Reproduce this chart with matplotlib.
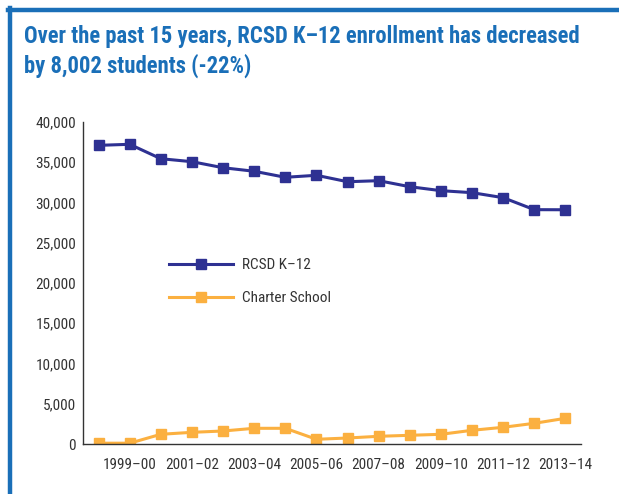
import matplotlib
matplotlib.use("Agg")
import matplotlib.pyplot as plt
from matplotlib.lines import Line2D

# data
seasons = ["1998–99", "1999–00", "2000–01", "2001–02", "2002–03", "2003–04",
           "2004–05", "2005–06", "2006–07", "2007–08", "2008–09", "2009–10",
           "2010–11", "2011–12", "2012–13", "2013–14"]
rcsd = [37100, 37230, 35440, 35070, 34320, 33880, 33130, 33380,
        32580, 32710, 31960, 31470, 31220, 30600, 29110, 29098]
charter = [100, 100, 1205, 1450, 1615, 1950, 1950, 584,
           745, 956, 1081, 1205, 1702, 2075, 2571, 3193]
series_names = ["RCSD K–12", "Charter School"]
y_ticks = [0, 5000, 10000, 15000, 20000, 25000, 30000, 35000, 40000]

NAVY = "#2e3192"
ORANGE = "#fbb040"
BLUE = "#1a6fb8"
GREY = "#333333"

plt.rcParams["font.family"] = ["Roboto Condensed", "DejaVu Sans"]

fig = plt.figure(figsize=(6.19, 4.94), dpi=100)
ax = fig.add_axes([83 / 619, 1 - 444 / 494, 498 / 619, 322 / 494])

x = list(range(len(seasons)))
ax.plot(x, rcsd, color=NAVY, lw=2.2, marker="s", ms=7, label=series_names[0])
ax.plot(x, charter, color=ORANGE, lw=2.2, marker="s", ms=7, label=series_names[1])

ax.set_xlim(-0.5, 15.5)
ax.set_ylim(0, 40000)
ax.set_yticks(y_ticks)
ax.set_yticklabels([f"{v:,}" for v in y_ticks])
ax.set_xticks(x[1::2])
ax.set_xticklabels(seasons[1::2])
ax.tick_params(length=0, labelsize=11, colors=GREY)
ax.tick_params(axis="x", pad=10)
ax.tick_params(axis="y", pad=5)
for s in ["top", "right"]:
    ax.spines[s].set_visible(False)
for s in ["left", "bottom"]:
    ax.spines[s].set_color(GREY)
    ax.spines[s].set_linewidth(1)

ax.legend(loc="upper left", bbox_to_anchor=(169 / 619, 1 - 258 / 494),
          bbox_transform=fig.transFigure, frameon=False, fontsize=11,
          handlelength=4.2, handletextpad=0.6, labelspacing=1.25,
          borderpad=0, borderaxespad=0, labelcolor=GREY)

# title
fig.text(24 / 619, 1 - 43.5 / 494, "Over the past 15 years, RCSD K–12 enrollment has decreased",
         color=BLUE, fontsize=16.3, fontweight="bold", va="baseline")
fig.text(24 / 619, 1 - 72.5 / 494, "by 8,002 students (-22%)",
         color=BLUE, fontsize=16.3, fontweight="bold", va="baseline")

# frame
fig.add_artist(Line2D([8 / 619, 1], [1 - 10 / 494, 1 - 10 / 494], color=BLUE, lw=3.2,
                      transform=fig.transFigure))
fig.add_artist(Line2D([10 / 619, 10 / 619], [0, 1 - 8 / 494], color=BLUE, lw=3.2,
                      transform=fig.transFigure))

fig.savefig("out.png", dpi=100)
